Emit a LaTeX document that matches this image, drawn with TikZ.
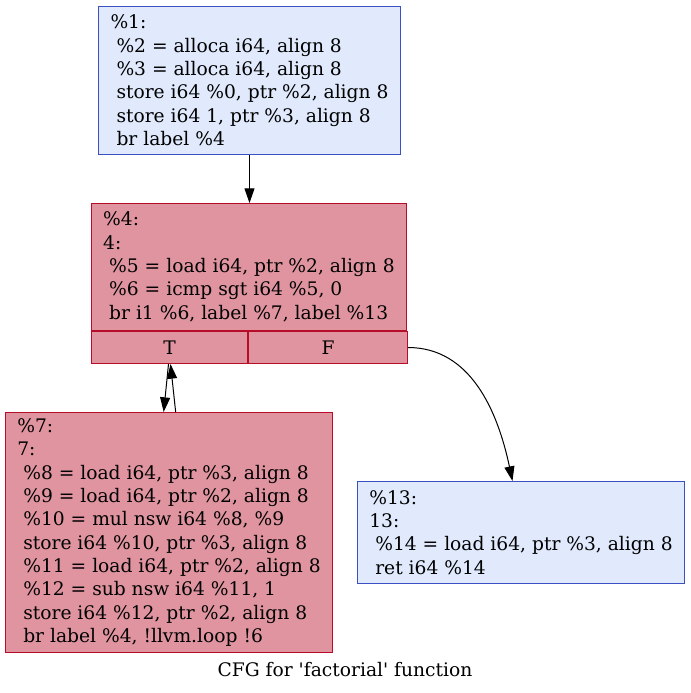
\documentclass[tikz,border=0pt]{standalone}
\usepackage{fontspec}
\newfontfamily\cfgfont[Ligatures=TeXOff]{DejaVu Serif}
\usetikzlibrary{arrows.meta,positioning,calc}
\definecolor{coldline}{HTML}{3D50C3}
\definecolor{coldfill}{RGB}{224,234,252}
\definecolor{hotline}{HTML}{B70D28}
\definecolor{hotfill}{RGB}{223,148,160}
\newcommand{\ind}{\hspace*{4.5pt}}

\begin{document}
\begin{tikzpicture}[x=0.75pt,y=-0.75pt]
        \tikzset{
            block/.style={
                draw, line width=0.75pt, anchor=north west, align=left,
                inner xsep=0pt, inner ysep=0pt,
                font=\cfgfont\fontsize{14}{17.5}\selectfont
            },
            cold/.style={block, draw=coldline, fill=coldfill},
            hot/.style={block, draw=hotline, fill=hotfill},
            cell/.style={hot, align=center, minimum height=24pt},
            edge/.style={line width=0.75pt, -{Triangle[length=11pt,width=7.5pt]}}
        }
        \useasboundingbox (0,0) rectangle (690,693);
        % blocks
        \node[cold, minimum width=226.5pt, minimum height=111pt] (b1) at (98,6)
        {\%1:\\ \ind\%2 = alloca i64, align 8\\ \ind\%3 = alloca i64, align 8\\
         \ind store i64 \%0, ptr \%2, align 8\\ \ind store i64 1, ptr \%3, align 8\\
         \ind br label \%4};
        \node[hot, minimum width=236.25pt, minimum height=95.25pt] (b4) at (91,203)
        {\%4:\\ 4:\\ \ind\%5 = load i64, ptr \%2, align 8\\ \ind\%6 = icmp sgt i64 \%5, 0\\
         \ind br i1 \%6, label \%7, label \%13};
        \node[cell, minimum width=117pt] (b4t) at (b4.south west) {T};
        \node[cell, minimum width=119.25pt] (b4f) at (b4t.north east) {F};
        \node[hot, minimum width=245.25pt, minimum height=180pt] (b7) at (5,412)
        {\%7:\\ 7:\\ \ind\%8 = load i64, ptr \%3, align 8\\ \ind\%9 = load i64, ptr \%2, align 8\\
         \ind\%10 = mul nsw i64 \%8, \%9\\ \ind store i64 \%10, ptr \%3, align 8\\
         \ind\%11 = load i64, ptr \%2, align 8\\ \ind\%12 = sub nsw i64 \%11, 1\\
         \ind store i64 \%12, ptr \%2, align 8\\ \ind br label \%4, !llvm.loop !6};
        \node[cold, minimum width=245.25pt, minimum height=76.5pt] (b13) at (357,481)
        {\%13:\\ 13:\\ \ind\%14 = load i64, ptr \%3, align 8\\ \ind ret i64 \%14};
        \node[font=\cfgfont\fontsize{14}{17.5}\selectfont] (title) at (345,670)
        {CFG for 'factorial' function};
        % edges
        \draw[edge] (b1.south) -- (b1.south |- b4.north);
        \draw[edge] ([xshift=-0.75pt]b4t.south) -- ([xshift=-4pt]b7.north);
        \draw[edge] ([xshift=5pt]b7.north) -- ([xshift=0.75pt]b4t.south);
        \draw[edge] (b4f.east) .. controls +(62,0) and +(-15,-71) .. ([xshift=-6.4pt]b13.north);
    \end{tikzpicture}
\end{document}
